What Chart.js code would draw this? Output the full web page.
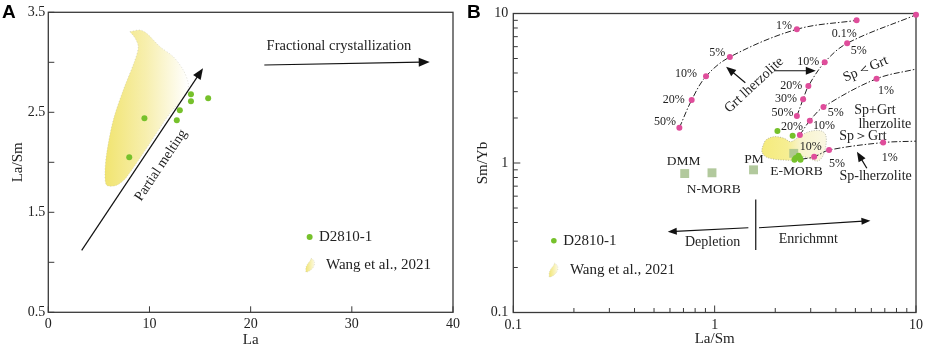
<!DOCTYPE html>
<html><head><meta charset="utf-8">
<script src="https://cdn.jsdelivr.net/npm/chart.js@4.4.1/dist/chart.umd.min.js"></script>
<style>
html,body{margin:0;padding:0;background:#fff;}
#wrap{position:relative;width:927px;height:346px;overflow:hidden;background:#fff;}
#ca{position:absolute;left:0;top:0;width:480px;height:346px;}
#cb{position:absolute;left:460px;top:0;width:467px;height:346px;}
</style></head><body>
<div id="wrap">
<div id="ca"><canvas id="chartA"></canvas></div>
<div id="cb"><canvas id="chartB"></canvas></div>
</div>
<script>
// ---------- Panel A data ----------
const aLa   = [8.0, 9.5, 12.7, 13.0, 14.1, 14.1, 15.8];
const aLaSm = [2.05, 2.44, 2.42, 2.52, 2.68, 2.61, 2.64];
const wangALa   = [8.07, 9.06, 9.72, 11.04, 12.35, 13.34, 13.83, 13.68, 12.03, 10.05, 7.75, 6.76, 5.77, 5.60, 5.77, 6.42, 7.41, 8.57, 8.89, 8.57, 8.07];
const wangALaSm = [3.306, 3.323, 3.29, 3.156, 3.056, 2.922, 2.789, 2.689, 2.492, 2.192, 1.854, 1.771, 1.771, 1.891, 2.092, 2.422, 2.722, 3.023, 3.156, 3.243, 3.306];
const aXTicks = [0, 10, 20, 30, 40];
const aYTicks = [0.5, 1, 1.5, 2, 2.5, 3, 3.5];
const aYLabels = [0.5, 1.5, 2.5, 3.5];

// ---------- Panel B data ----------
const bLaSm = [2.05, 2.44, 2.49, 2.53, 2.65, 2.61, 2.67];
const bSmYb = [1.64, 1.52, 1.05, 1.08, 1.08, 1.12, 1.05];
const refNames = ['DMM', 'N-MORB', 'PM', 'E-MORB'];
const refLaSm = [0.71, 0.97, 1.56, 2.47];
const refSmYb = [0.85, 0.86, 0.90, 1.16];
const grtLaSm = [0.668, 0.769, 0.906, 1.19, 2.56, 5.07];
const grtSmYb = [1.72, 2.64, 3.80, 5.12, 7.84, 9.0];
const mixLaSm = [2.56, 2.75, 2.92, 3.52, 4.55, 10];
const mixSmYb = [2.06, 2.67, 3.27, 4.72, 6.32, 9.8];
const spGrtLaSm = [2.65, 2.97, 3.47, 6.37, 10];
const spGrtSmYb = [1.54, 1.92, 2.37, 3.66, 4.25];
const spLaSm = [2.70, 3.12, 3.70, 6.87, 10];
const spSmYb = [1.06, 1.10, 1.22, 1.37, 1.40];
const wangBLaSm = [1.729, 1.797, 1.975, 2.213, 2.388, 2.625, 2.94, 3.36, 3.56, 3.56, 3.43, 3.24, 2.94, 2.73, 2.43, 2.213, 1.975, 1.797, 1.717, 1.729];
const wangBSmYb = [1.285, 1.425, 1.50, 1.462, 1.388, 1.50, 1.62, 1.644, 1.54, 1.285, 1.10, 1.03, 1.075, 1.10, 1.047, 1.047, 1.06, 1.10, 1.19, 1.285];
const bLabels = [0.1, 1, 10];
const bDecades = [0.1, 1];
const bSignif = [1, 2, 3, 4, 5, 6, 7, 8, 9];

const SERIF = '"Liberation Serif","Times New Roman",serif';
const SANS = '"Liberation Sans",Arial,sans-serif';
const GREEN = '#76c12b';
const PINK = '#df4d9b';
const TXT = '#222';

function zip(xs, ys) { return xs.map((x, i) => ({x: x, y: ys[i]})); }

function yellowGrad(xsArr, stops) {
  return (c) => {
    const ch = c.chart;
    if (!ch.chartArea) return stops[0][1];
    const xs = ch.scales.x;
    const x0 = xs.getPixelForValue(Math.min.apply(null, xsArr));
    const x1 = xs.getPixelForValue(Math.max.apply(null, xsArr));
    const g = ch.ctx.createLinearGradient(x0, 0, x1, 0);
    stops.forEach(s => g.addColorStop(s[0], s[1]));
    return g;
  };
}

function drawArrow(ctx, x1, y1, x2, y2, hl, hw) {
  const ang = Math.atan2(y2 - y1, x2 - x1);
  const c = Math.cos(ang), s = Math.sin(ang);
  ctx.beginPath();
  ctx.moveTo(x1, y1);
  ctx.lineTo(x2 - c * hl * 0.8, y2 - s * hl * 0.8);
  ctx.stroke();
  ctx.beginPath();
  ctx.moveTo(x2, y2);
  ctx.lineTo(x2 - hl * c + hw / 2 * s, y2 - hl * s - hw / 2 * c);
  ctx.lineTo(x2 - hl * c - hw / 2 * s, y2 - hl * s + hw / 2 * c);
  ctx.closePath();
  ctx.fill();
}

function wangIcon(ctx, cx, cy) {
  const g = ctx.createLinearGradient(cx - 5, 0, cx + 5, 0);
  g.addColorStop(0, '#f0e36a'); g.addColorStop(1, '#fdfbe8');
  ctx.save();
  ctx.fillStyle = g;
  ctx.strokeStyle = 'rgba(190,190,170,0.8)';
  ctx.lineWidth = 0.6;
  ctx.setLineDash([1, 1.5]);
  ctx.beginPath();
  ctx.moveTo(cx + 1, cy - 7);
  ctx.quadraticCurveTo(cx + 6, cy - 5, cx + 4, cy + 1);
  ctx.quadraticCurveTo(cx + 1, cy + 6, cx - 4, cy + 7);
  ctx.quadraticCurveTo(cx - 5, cy + 1, cx - 1, cy - 3);
  ctx.quadraticCurveTo(cx + 1, cy - 5, cx + 1, cy - 7);
  ctx.closePath();
  ctx.fill(); ctx.stroke();
  ctx.restore();
}

const framePlugin = {
  id: 'frame',
  beforeDatasetsDraw(chart, args, opts) {
    const {ctx, chartArea: a} = chart;
    ctx.save();
    ctx.strokeStyle = '#3a3a3a';
    ctx.lineWidth = 1.3;
    ctx.strokeRect(a.left, a.top, a.right - a.left, a.bottom - a.top);
    ctx.lineWidth = 1;
    ['x', 'y'].forEach(ax => {
      const s = chart.scales[ax];
      s.ticks.forEach(t => {
        const major = opts.isMajor(ax, t.value);
        const len = major ? opts.majorLen : opts.minorLen;
        const p = s.getPixelForValue(t.value);
        ctx.beginPath();
        if (ax === 'x') { ctx.moveTo(p, a.bottom); ctx.lineTo(p, a.bottom - len); }
        else { ctx.moveTo(a.left, p); ctx.lineTo(a.left + len, p); }
        ctx.stroke();
      });
    });
    ctx.restore();
  },
  afterDatasetsDraw(chart, args, opts) {
    const {ctx} = chart;
    const X = v => chart.scales.x.getPixelForValue(v);
    const Y = v => chart.scales.y.getPixelForValue(v);
    ctx.save();
    ctx.fillStyle = TXT; ctx.strokeStyle = '#111'; ctx.lineWidth = 1.2;
    (opts.lines || []).forEach(l => {
      ctx.beginPath(); ctx.moveTo(X(l.x1), Y(l.y1)); ctx.lineTo(X(l.x2), Y(l.y2)); ctx.stroke();
    });
    (opts.arrows || []).forEach(r => {
      ctx.fillStyle = '#111';
      drawArrow(ctx, X(r.x1), Y(r.y1), X(r.x2), Y(r.y2), r.hl, r.hw);
    });
    ctx.fillStyle = TXT;
    ctx.textBaseline = 'middle';
    (opts.texts || []).forEach(t => {
      ctx.save();
      ctx.font = (t.size || 14) + 'px ' + SERIF;
      ctx.textAlign = t.align || 'center';
      ctx.translate(X(t.x), Y(t.y));
      if (t.rot) ctx.rotate(t.rot * Math.PI / 180);
      ctx.fillText(t.t, 0, 0);
      ctx.restore();
    });
    // legend
    const lg = opts.legend;
    ctx.beginPath();
    ctx.fillStyle = GREEN;
    ctx.arc(X(lg.dot.x), Y(lg.dot.y), lg.r, 0, Math.PI * 2);
    ctx.fill();
    wangIcon(ctx, X(lg.icon.x), Y(lg.icon.y));
    ctx.fillStyle = TXT;
    ctx.font = '15px ' + SERIF;
    ctx.textAlign = 'left';
    ctx.fillText(lg.t1, X(lg.t1x), Y(lg.dot.y));
    ctx.fillText(lg.t2, X(lg.t2x), Y(lg.icon.y));
    // panel letter
    ctx.font = 'bold 19px ' + SANS;
    ctx.fillStyle = '#000';
    ctx.textAlign = 'left';
    ctx.textBaseline = 'top';
    ctx.fillText(opts.letter, opts.letterX, opts.letterY);
    ctx.restore();
  }
};

function axisCommon(title, titlePad, tickPad) {
  return {
    grid: {display: false, drawTicks: false},
    border: {display: false},
    ticks: {font: {family: SERIF, size: 14}, color: TXT, padding: tickPad, maxRotation: 0, autoSkip: false},
    title: {display: true, text: title, color: TXT, font: {family: SERIF, size: 15, lineHeight: 1}, padding: titlePad}
  };
}

// ---------- Chart A ----------
const ax = axisCommon('La', {top: 0, bottom: -1.5}, 4);
ax.type = 'linear'; ax.min = 0; ax.max = 40;
ax.afterBuildTicks = s => { s.ticks = aXTicks.map(v => ({value: v})); };
ax.ticks.callback = v => String(v);
ax.afterFit = s => { s.height = 33.7; };
const ay = axisCommon('La/Sm', {top: 10.5, bottom: 0}, 3);
ay.type = 'linear'; ay.min = 0.5; ay.max = 3.5;
ay.afterBuildTicks = s => { s.ticks = aYTicks.map(v => ({value: v})); };
ay.ticks.callback = v => aYLabels.includes(v) ? v.toFixed(1) : '';
ay.afterFit = s => { s.width = 48.3; };

new Chart(document.getElementById('chartA'), {
  type: 'scatter',
  data: {datasets: [
    {label: 'D2810-1', data: zip(aLa, aLaSm), pointRadius: 3, pointBackgroundColor: GREEN, pointBorderWidth: 0, order: 0, clip: false},
    {label: 'Wang et al., 2021', data: zip(wangALa, wangALaSm), showLine: true, fill: 'shape', tension: 0.3,
     backgroundColor: yellowGrad(wangALa, [[0, '#f1e470'], [0.5, '#f7efaf'], [1, '#ffffff']]),
     borderColor: 'rgba(185,185,170,0.7)', borderWidth: 0.7, borderDash: [1, 2], pointRadius: 0, order: 5}
  ]},
  options: {
    responsive: true, maintainAspectRatio: false, animation: false, devicePixelRatio: 1,
    layout: {padding: {left: 0, top: 12.3, right: 27, bottom: 0}},
    plugins: {
      legend: {display: false}, tooltip: {enabled: false},
      frame: {
        isMajor: () => true, majorLen: 6, minorLen: 6,
        texts: [
          {t: 'Fractional crystallization', x: 28.72, y: 3.163, size: 14.5},
          {t: 'Partial melting', x: 11.14, y: 1.97, size: 14, rot: -56.3}
        ],
        arrows: [
          {x1: 21.35, y1: 2.973, x2: 37.7, y2: 3.003, hl: 11, hw: 9},
          {x1: 3.3, y1: 1.12, x2: 15.29, y2: 2.94, hl: 11, hw: 9}
        ],
        legend: {dot: {x: 25.83, y: 1.254}, r: 3, icon: {x: 25.86, y: 0.97}, t1: 'D2810-1', t1x: 26.75, t2: 'Wang et al., 2021', t2x: 27.44},
        letter: 'A', letterX: 2, letterY: 3
      }
    },
    scales: {x: ax, y: ay}
  },
  plugins: [framePlugin]
});

// ---------- Chart B ----------
function logTicks() {
  const out = [];
  bDecades.forEach(d => bSignif.forEach(m => out.push({value: Number((d * m).toPrecision(3))})));
  out.push({value: 10});
  return out;
}
const bx = axisCommon('La/Sm', {top: 0, bottom: -0.5}, 4);
bx.type = 'logarithmic'; bx.min = 0.1; bx.max = 10;
bx.afterBuildTicks = s => { s.ticks = logTicks(); };
bx.ticks.callback = v => bLabels.includes(v) ? String(v) : '';
bx.afterFit = s => { s.height = 33.5; };
const by = axisCommon('Sm/Yb', {top: 15.8, bottom: 0}, 5);
by.type = 'logarithmic'; by.min = 0.1; by.max = 10;
by.afterBuildTicks = s => { s.ticks = logTicks(); };
by.ticks.callback = v => bLabels.includes(v) ? String(v) : '';
by.afterFit = s => { s.width = 53.3; };

const curveStyle = {showLine: true, borderColor: '#222', borderWidth: 1, borderDash: [6, 2, 1.5, 2], tension: 0.35,
  pointBackgroundColor: PINK, pointBorderWidth: 0, order: 1, clip: false};

new Chart(document.getElementById('chartB'), {
  type: 'scatter',
  data: {datasets: [
    {label: 'D2810-1', data: zip(bLaSm, bSmYb), pointRadius: 3, pointBackgroundColor: GREEN, pointBorderWidth: 0, order: 0, clip: false},
    Object.assign({label: 'Grt lherzolite', data: zip(grtLaSm, grtSmYb), pointRadius: 3}, curveStyle),
    Object.assign({label: 'Sp<Grt', data: zip(mixLaSm, mixSmYb), pointRadius: 3}, curveStyle),
    Object.assign({label: 'Sp+Grt lherzolite', data: zip(spGrtLaSm, spGrtSmYb), pointRadius: [3, 3, 3, 3, 0]}, curveStyle),
    Object.assign({label: 'Sp-lherzolite', data: zip(spLaSm, spSmYb), pointRadius: [0, 3, 3, 3, 0]}, curveStyle),
    {label: 'Reference', data: zip(refLaSm, refSmYb), pointStyle: 'rect', pointRadius: 6.3, pointBackgroundColor: 'rgba(165,192,140,0.85)', pointBorderWidth: 0, order: 2, clip: false},
    {label: 'Wang et al., 2021', data: zip(wangBLaSm, wangBSmYb), showLine: true, fill: 'shape', tension: 0.35,
     backgroundColor: yellowGrad(wangBLaSm, [[0, '#f5eb7c'], [0.4, '#f6ee92'], [0.6, '#f8f3cc'], [1, '#faf7e2']]),
     borderColor: 'rgba(160,160,145,0.9)', borderWidth: 0.8, borderDash: [1, 1.5], pointRadius: 0, order: 5}
  ]},
  options: {
    responsive: true, maintainAspectRatio: false, animation: false, devicePixelRatio: 1,
    layout: {padding: {left: 0, top: 13.5, right: 9.7, bottom: 0}},
    plugins: {
      legend: {display: false}, tooltip: {enabled: false},
      frame: {
        isMajor: (a, v) => bLabels.includes(v), majorLen: 7, minorLen: 4.5,
        texts: [
          {t: '1%', x: 2.21, y: 8.25, size: 12}, {t: '0.1%', x: 4.40, y: 7.26, size: 12},
          {t: '5%', x: 5.20, y: 5.61, size: 12}, {t: '5%', x: 1.03, y: 5.47, size: 12},
          {t: '10%', x: 0.721, y: 3.94, size: 12}, {t: '20%', x: 0.627, y: 2.64, size: 12},
          {t: '50%', x: 0.567, y: 1.89, size: 12}, {t: '10%', x: 2.92, y: 4.76, size: 12},
          {t: '20%', x: 2.40, y: 3.27, size: 12}, {t: '30%', x: 2.26, y: 2.69, size: 12},
          {t: '50%', x: 2.17, y: 2.15, size: 12}, {t: '1%', x: 7.10, y: 3.05, size: 12},
          {t: '5%', x: 3.99, y: 2.15, size: 12}, {t: '20%', x: 2.42, y: 1.75, size: 12},
          {t: '10%', x: 3.49, y: 1.77, size: 12}, {t: '10%', x: 3.00, y: 1.285, size: 12},
          {t: '1%', x: 7.41, y: 1.08, size: 12}, {t: '5%', x: 4.05, y: 0.985, size: 12},
          {t: 'Sp＜Grt', x: 5.62, y: 4.24, size: 14, rot: -23},
          {t: 'Sp+Grt', x: 6.25, y: 2.26, size: 14},
          {t: 'lherzolite', x: 7.00, y: 1.82, size: 14},
          {t: 'Sp＞Grt', x: 5.45, y: 1.50, size: 14},
          {t: 'Sp-lherzolite', x: 6.30, y: 0.81, size: 14},
          {t: 'Grt lherzolite', x: 1.57, y: 3.32, size: 14, rot: -43},
          {t: 'Depletion', x: 0.977, y: 0.296, size: 14},
          {t: 'Enrichmnt', x: 2.92, y: 0.309, size: 14},
          {t: refNames[0], x: 0.702, y: 1.02, size: 13.5},
          {t: refNames[1], x: 0.989, y: 0.67, size: 13.5},
          {t: refNames[2], x: 1.57, y: 1.06, size: 13.5},
          {t: refNames[3], x: 2.55, y: 0.875, size: 13.5}
        ],
        arrows: [
          {x1: 1.42, y1: 3.44, x2: 1.14, y2: 4.41, hl: 10, hw: 8},
          {x1: 1.975, y1: 4.14, x2: 3.18, y2: 4.14, hl: 10, hw: 8},
          {x1: 5.70, y1: 0.922, x2: 5.09, y2: 1.19, hl: 10, hw: 8},
          {x1: 1.47, y1: 0.369, x2: 0.585, y2: 0.347, hl: 9, hw: 7},
          {x1: 1.66, y1: 0.369, x2: 5.94, y2: 0.411, hl: 9, hw: 7}
        ],
        lines: [{x1: 1.60, y1: 0.571, x2: 1.60, y2: 0.262}],
        legend: {dot: {x: 0.159, y: 0.302}, r: 2.8, icon: {x: 0.158, y: 0.192}, t1: 'D2810-1', t1x: 0.177, t2: 'Wang et al., 2021', t2x: 0.191},
        letter: 'B', letterX: 7, letterY: 3
      }
    },
    scales: {x: bx, y: by}
  },
  plugins: [framePlugin]
});
</script>
</body></html>
